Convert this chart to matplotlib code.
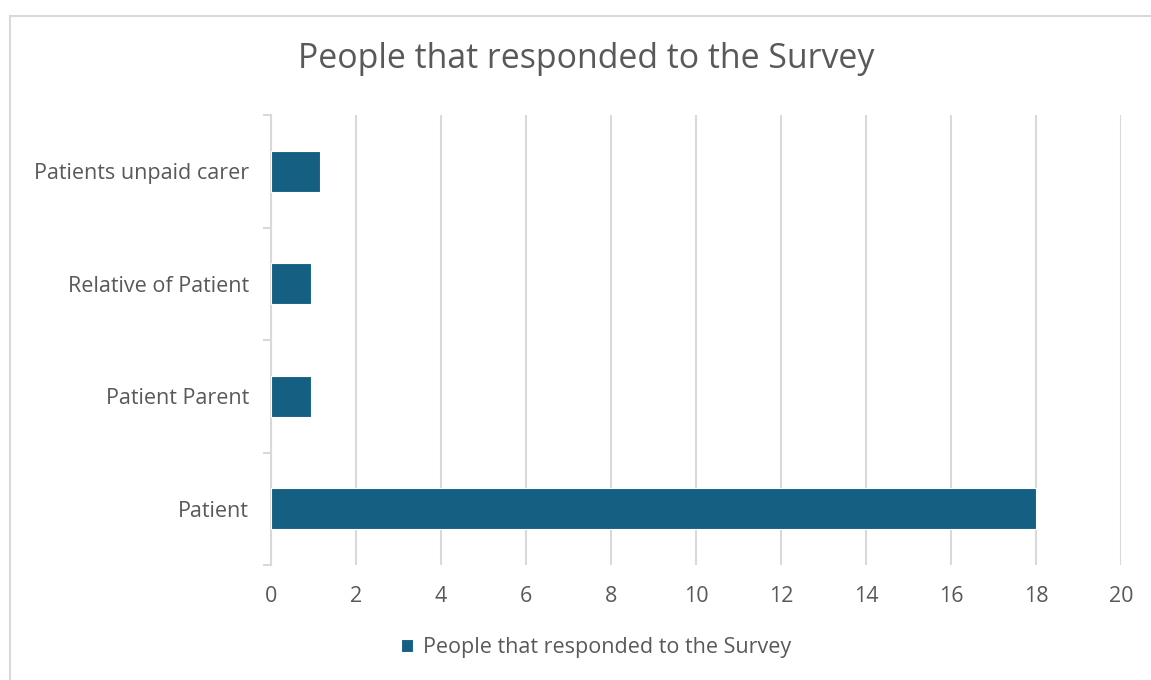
import matplotlib
matplotlib.use("Agg")
import matplotlib.pyplot as plt
from matplotlib.patches import Rectangle

categories = ["Patient", "Patient Parent", "Relative of Patient", "Patients unpaid carer"]
responses = [18, 0.95, 0.95, 1.15]
series_name = "People that responded to the Survey"
x_ticks = list(range(0, 21, 2))

text_color = "#595959"
grid_color = "#d9d9d9"
bar_color = "#156082"

plt.rcParams["font.family"] = ["Open Sans", "DejaVu Sans"]

fig = plt.figure(figsize=(11.51, 6.80), dpi=100)
ax = fig.add_axes([271 / 1151, 1 - 565 / 680, 850 / 1151, 450 / 680])

# outer chart frame (runs off the right / bottom of the image)
fig.patches.append(Rectangle((10 / 1151, -0.1), 1.2, 1 - 16 / 680 + 0.1,
                             transform=fig.transFigure, fill=False,
                             edgecolor=grid_color, linewidth=1.5))

ypos = list(range(len(categories)))
ax.barh(ypos, responses, height=0.365, color=bar_color, edgecolor="white",
        linewidth=0.8, label=series_name, zorder=3)

ax.set_xlim(0, 20)
ax.set_ylim(-0.5, len(categories) - 0.5)
ax.set_xticks(x_ticks)
ax.set_xticklabels([str(t) for t in x_ticks])
ax.set_yticks(ypos)
ax.set_yticklabels(categories)
ax.set_yticks([i - 0.5 for i in range(len(categories) + 1)], minor=True)

ax.tick_params(axis="x", length=0, pad=15, labelsize=15.5, labelcolor=text_color)
ax.tick_params(axis="y", which="major", length=0, pad=16, labelsize=15.5, labelcolor=text_color)
ax.tick_params(axis="y", which="minor", length=6, width=1.5, color=grid_color)

ax.grid(True, axis="x", color=grid_color, linewidth=1.5, zorder=0)
for side in ["top", "right", "bottom"]:
    ax.spines[side].set_visible(False)
ax.spines["left"].set_color(grid_color)
ax.spines["left"].set_linewidth(1.5)

fig.text(586 / 1151, 1 - 59 / 680, "People that responded to the Survey",
         ha="center", va="center", fontsize=24.4, color=text_color)

leg = fig.legend(loc="center", bbox_to_anchor=(596 / 1151, 1 - 648 / 680),
                 frameon=False, fontsize=15.5, handlelength=0.55, handleheight=0.55,
                 handletextpad=0.45)
for t in leg.get_texts():
    t.set_color(text_color)

fig.savefig("out.png", dpi=100)
